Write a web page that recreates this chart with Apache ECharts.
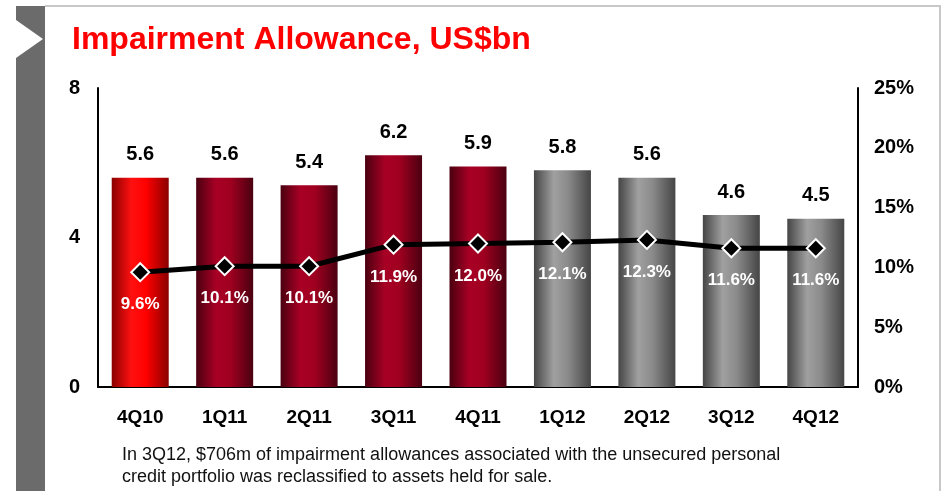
<!DOCTYPE html>
<html>
<head>
<meta charset="utf-8">
<script src="https://cdn.jsdelivr.net/npm/echarts@6/dist/echarts.min.js"></script>
<style>
  html, body { margin: 0; padding: 0; background: #fff; }
  #chart { width: 947px; height: 491px; }
</style>
</head>
<body>
<div id="chart"></div>
<script>
var quarters = ['4Q10', '1Q11', '2Q11', '3Q11', '4Q11', '1Q12', '2Q12', '3Q12', '4Q12'];
var allowance = [5.6, 5.6, 5.4, 6.2, 5.9, 5.8, 5.6, 4.6, 4.5];     // US$bn
var ratio = [9.6, 10.1, 10.1, 11.9, 12.0, 12.1, 12.3, 11.6, 11.6];  // %
var leftTicks = [0, 4, 8];
var rightTicks = [0, 5, 10, 15, 20, 25];
// bar style groups: 0 = bright red, 1 = dark red, 2 = grey
var barGroup = [0, 1, 1, 1, 1, 2, 2, 2, 2];

var font = 'Liberation Sans, Arial, sans-serif';

function grad(edge, mid, light) {
  return new echarts.graphic.LinearGradient(0, 0, 1, 0, [
    { offset: 0, color: edge },
    { offset: 0.35, color: light },
    { offset: 0.6, color: mid },
    { offset: 1, color: edge }
  ]);
}
var fills = [
  grad('#8a0000', '#ff0000', '#ff1010'),
  grad('#4a0010', '#a00020', '#a80025'),
  grad('#454545', '#8a8a8a', '#a0a0a0')
];

var chart = echarts.init(document.getElementById('chart'));

var option = {
  animation: false,
  grid: { left: 98, right: 89, top: 88, bottom: 104 },
  graphic: [
    // left sidebar with notch
    { type: 'rect', shape: { x: 16, y: 6, width: 29, height: 485 }, style: { fill: '#6b6b6b' }, z: 0 },
    { type: 'polygon', shape: { points: [[16, 20], [43, 39], [16, 58]] }, style: { fill: '#fff' }, z: 1 },
    { type: 'rect', shape: { x: 45, y: 5, width: 896, height: 2 }, style: { fill: '#c8c8c8' }, z: 0 },
    { type: 'rect', shape: { x: 939, y: 5, width: 2, height: 486 }, style: { fill: '#c8c8c8' }, z: 0 },
    {
      type: 'text', left: 72, top: 24,
      style: { text: 'Impairment Allowance, US$bn', fill: '#ff0000', font: 'bold 32px ' + font }
    },
    {
      type: 'text', left: 122, top: 444,
      style: {
        text: 'In 3Q12, $706m of impairment allowances associated with the unsecured personal\ncredit portfolio was reclassified to assets held for sale.',
        fill: '#111', font: '18px ' + font, lineHeight: 22
      }
    }
  ],
  xAxis: {
    type: 'category',
    data: quarters,
    axisLine: { lineStyle: { color: '#000', width: 2 } },
    axisTick: { show: false },
    axisLabel: { color: '#000', fontFamily: font, fontWeight: 'bold', fontSize: 19, margin: 21 }
  },
  yAxis: [
    {
      type: 'value', min: 0, max: 8, interval: 4,
      axisLine: { show: true, lineStyle: { color: '#000', width: 2 } },
      axisTick: { show: false },
      splitLine: { show: false },
      axisLabel: {
        color: '#000', fontFamily: font, fontWeight: 'bold', fontSize: 20, margin: 18,
        formatter: function (v) { return leftTicks.indexOf(v) >= 0 ? String(v) : ''; }
      }
    },
    {
      type: 'value', min: 0, max: 25, interval: 5,
      axisLine: { show: true, lineStyle: { color: '#000', width: 2 } },
      axisTick: { show: false },
      splitLine: { show: false },
      axisLabel: {
        color: '#000', fontFamily: font, fontWeight: 'bold', fontSize: 20, margin: 16,
        formatter: function (v) { return rightTicks.indexOf(v) >= 0 ? v + '%' : ''; }
      }
    }
  ],
  series: [
    {
      type: 'bar',
      yAxisIndex: 0,
      barWidth: 57,
      data: allowance.map(function (v, i) {
        return { value: v, itemStyle: { color: fills[barGroup[i]] } };
      }),
      label: {
        show: true, position: 'top', distance: 13,
        color: '#000', fontFamily: font, fontWeight: 'bold', fontSize: 20,
        formatter: function (p) { return p.value.toFixed(1); }
      }
    },
    {
      type: 'line',
      yAxisIndex: 1,
      data: ratio,
      lineStyle: { color: '#000', width: 5 },
      symbol: 'diamond',
      symbolSize: 18,
      itemStyle: { color: '#000', borderColor: '#fff', borderWidth: 2 },
      z: 5,
      label: {
        show: true, position: 'bottom', distance: 14,
        color: '#fff', fontFamily: font, fontWeight: 'bold', fontSize: 17,
        formatter: function (p) { return p.value.toFixed(1) + '%'; }
      }
    }
  ]
};

chart.setOption(option);
</script>
</body>
</html>
